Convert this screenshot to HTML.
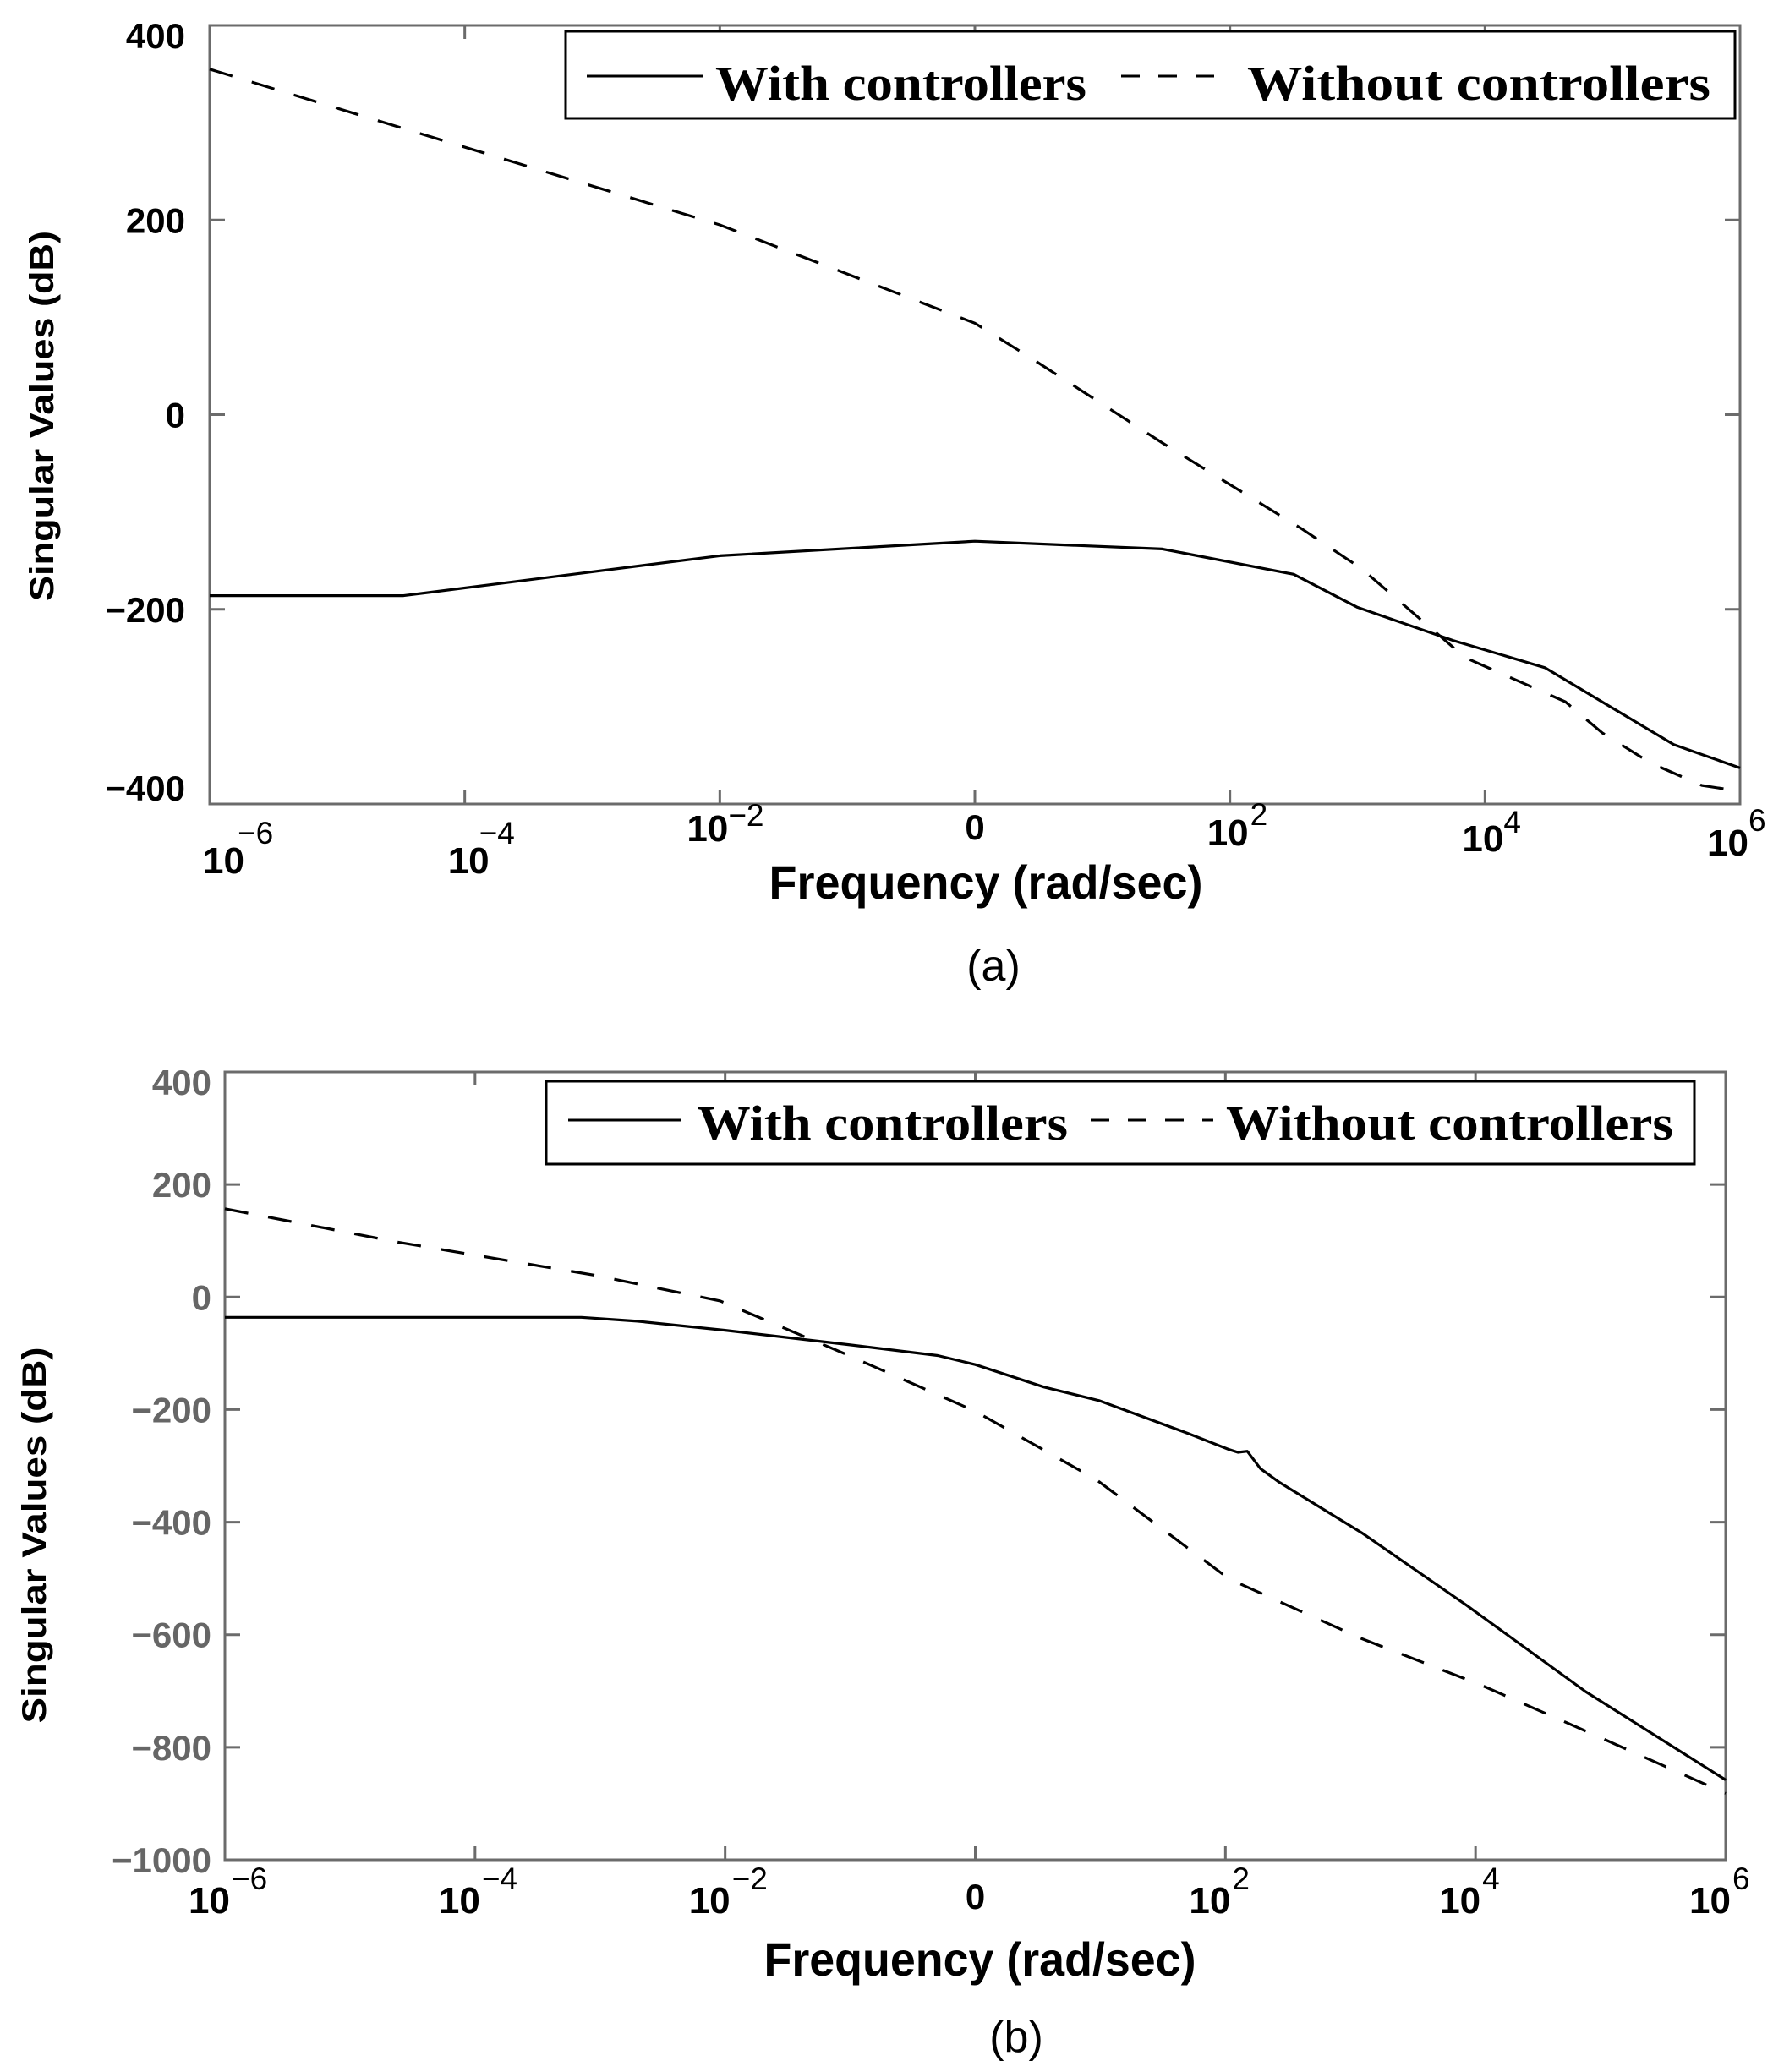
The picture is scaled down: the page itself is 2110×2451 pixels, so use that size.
<!DOCTYPE html>
<html><head><meta charset="utf-8"><style>
html,body{margin:0;padding:0;background:#fff;}
svg{display:block;}
</style></head>
<body>
<svg id="fig" width="2110" height="2451" viewBox="0 0 2110 2451" xmlns="http://www.w3.org/2000/svg">
<rect width="2110" height="2451" fill="#fff"/>
<g id="pa"></g>
<g id="pb"></g>
</svg>
<script>
// ---- data: plot (a) ----
const aWithLogW = [-6, -4.48, -2, 0, 1.47, 2.5, 3.0, 3.75, 4.47, 5.48, 6];
const aWithDb   = [-186, -186, -145, -130, -138, -164, -198, -232, -260, -339, -363];
const aWithoutLogW = [-6, -4.48, -2, 0, 0.43, 1.47, 2.56, 3.03, 3.75, 3.8, 4.63, 4.92, 5.3, 5.7, 6];
const aWithoutDb   = [355, 294, 195, 94, 59, -29, -117, -158, -239, -247, -295, -327, -358, -381, -387];
// ---- data: plot (b) ----
const bWithLogW = [-6, -3.15, -2.7, -2, -1, -0.3, 0, 0.55, 0.99, 1.71, 2.03, 2.1, 2.175, 2.28, 2.43, 3.09, 3.93, 4.88, 6];
const bWithDb   = [-36, -36, -43, -59, -85, -104, -120, -160, -184, -243, -271, -276, -274, -305, -329, -419, -548, -701, -858];
const bWithoutLogW = [-6, -4.63, -3.05, -2.04, -1.03, 0, 0.97, 2.03, 3.09, 4.04, 4.88, 6];
const bWithoutDb   = [157, 98, 39, -7, -102, -203, -325, -501, -607, -689, -771, -882];
// ---- ticks ----
const xTickExp = [-6, -4, -2, 0, 2, 4, 6];
const aYTicks = [400, 200, 0, -200, -400];
const bYTicks = [400, 200, 0, -200, -400, -600, -800, -1000];

const NS = "http://www.w3.org/2000/svg";
function mk(parent, tag, attrs, text){
  const e = document.createElementNS(NS, tag);
  for (const k in attrs) e.setAttribute(k, attrs[k]);
  if (text !== undefined) e.textContent = text;
  parent.appendChild(e);
  return e;
}
function fmt(v){ return v < 0 ? "\u2212" + Math.abs(v) : String(v); }

function drawPlot(g, cfg){
  const {L,R,T,B,ymin,ymax} = cfg;
  const xs = lw => L + (lw + 6) / 12 * (R - L);
  const ys = v => T + (ymax - v) / (ymax - ymin) * (B - T);
  const box = mk(g, "rect", {x:L, y:T, width:R-L, height:B-T, fill:"none", stroke:"#6b6b6b", "stroke-width":3});
  
  
  xTickExp.forEach(e => {
    const x = xs(e);
    const t1 = mk(g, "line", {x1:x, y1:B, x2:x, y2:B-16, stroke:"#6b6b6b", "stroke-width":3});
    
    
    const t2 = mk(g, "line", {x1:x, y1:T, x2:x, y2:T+16, stroke:"#6b6b6b", "stroke-width":3});
    
    
  });
  cfg.yTicks.forEach(v => {
    const y = ys(v);
    const t1 = mk(g, "line", {x1:L, y1:y, x2:L+18, y2:y, stroke:"#6b6b6b", "stroke-width":3});
    
    
    const t2 = mk(g, "line", {x1:R, y1:y, x2:R-18, y2:y, stroke:"#6b6b6b", "stroke-width":3});
    
    
    let ty = y + 15;
    if (v === ymax) ty = y + 27;
    if (v === ymin && cfg.clampBottom) ty = y - 4;
    const lab = mk(g, "text", {x:cfg.yLabRight, y:ty, "text-anchor":"end", "font-family":"Liberation Sans, sans-serif", "font-weight":"bold", "font-size":42, fill:cfg.yLabColor}, fmt(v));
    
    
  });
  xTickExp.forEach((e, i) => {
    const x = xs(e);
    const lay = cfg.xLab[i];
    if (e === 0) {
      const z = mk(g, "text", {x:x, y:lay[1], "text-anchor":"middle", "font-family":"Liberation Sans, sans-serif", "font-weight":"bold", "font-size":42, fill:"#000"}, "0");
      
      
      return;
    }
    const ten = mk(g, "text", {x:x+lay[0], y:lay[1], "text-anchor":"end", "font-family":"Liberation Sans, sans-serif", "font-weight":"bold", "font-size":44, fill:"#000"}, "10");
    
    
    const ex = mk(g, "text", {x:x+lay[0]+lay[3], y:lay[2], "text-anchor":"start", "font-family":"Liberation Sans, sans-serif", "font-size":37, fill:"#000"}, fmt(e));
    
    
  });
  function path(lw, db){
    return lw.map((w,i) => (i ? "L" : "M") + xs(w).toFixed(1) + "," + ys(db[i]).toFixed(1)).join(" ");
  }
  const pw = mk(g, "path", {d:path(cfg.withX, cfg.withY), fill:"none", stroke:"#000", "stroke-width":3.2, "stroke-linejoin":"round"});
  
  
  const pn = mk(g, "path", {d:path(cfg.woX, cfg.woY), fill:"none", stroke:"#000", "stroke-width":3.2, "stroke-dasharray":"28 24"});
  
  
  const lg = cfg.leg;
  const lgg = mk(g, "g", {});
  
  
  mk(lgg, "rect", {x:lg.x, y:lg.y, width:lg.w, height:lg.h, fill:"#fff", stroke:"#000", "stroke-width":3});
  const ls = mk(lgg, "line", {x1:lg.s1, y1:lg.ly, x2:lg.s2, y2:lg.ly, stroke:"#000", "stroke-width":3});
  
  
  const t1 = mk(lgg, "text", {x:lg.t1, y:lg.by, "font-family":"Liberation Serif, serif", "font-weight":"bold", "font-size":58, textLength:lg.t1w, lengthAdjust:"spacingAndGlyphs"}, "With controllers");
  
  
  const ld = mk(lgg, "line", {x1:lg.d1, y1:lg.ly, x2:lg.d2, y2:lg.ly, stroke:"#000", "stroke-width":3, "stroke-dasharray":"22 22"});
  
  
  const t2 = mk(lgg, "text", {x:lg.t2, y:lg.by, "font-family":"Liberation Serif, serif", "font-weight":"bold", "font-size":58, textLength:lg.t2w, lengthAdjust:"spacingAndGlyphs"}, "Without controllers");
  
  
  const yt = mk(g, "text", {x:0, y:0, transform:"translate("+cfg.yt[0]+","+cfg.yt[1]+") rotate(-90)", "text-anchor":"middle", "dominant-baseline":"central", "font-family":"Liberation Sans, sans-serif", "font-weight":"bold", "font-size":40, textLength:cfg.yt[2], lengthAdjust:"spacingAndGlyphs"}, "Singular Values (dB)");
  
  
  const xt = mk(g, "text", {x:cfg.xt[0], y:cfg.xt[1], "text-anchor":"middle", "font-family":"Liberation Sans, sans-serif", "font-weight":"bold", "font-size":56, textLength:cfg.xt[2], lengthAdjust:"spacingAndGlyphs"}, "Frequency (rad/sec)");
  
  
  const cap = mk(g, "text", {x:cfg.cap[0], y:cfg.cap[1], "text-anchor":"middle", "font-family":"Liberation Sans, sans-serif", "font-size":52}, cfg.cap[2]);
  
  
}

drawPlot(document.getElementById("pa"), {
  L:248, R:2058, T:30, B:951, ymin:-400, ymax:400, yTicks:aYTicks, yLabRight:219, yLabColor:"#000", clampBottom:true,
  withX:aWithLogW, withY:aWithDb, woX:aWithoutLogW, woY:aWithoutDb,
  xLab:[[41,1033,998,-8],[29,1033,998,-12],[10,995,977,0],[0,993,0,0],[22,1000,976,2],[22,1007,985,0],[10,1012,983,0]],
  leg:{x:669,y:37,w:1383,h:103,s1:694,s2:832,ly:90,t1:846,t1w:439,d1:1326,d2:1457,t2:1475,t2w:548,by:118},
  yt:[50,492,438], xt:[1166,1063,513], cap:[1175,1160,"(a)"]
});
drawPlot(document.getElementById("pb"), {
  L:266, R:2041, T:1268, B:2200, ymin:-1000, ymax:400, yTicks:bYTicks, yLabRight:250, yLabColor:"#666", clampBottom:false,
  withX:bWithLogW, withY:bWithDb, woX:bWithoutLogW, woY:bWithoutDb,
  xLab:[[6,2263,2235,2],[6,2263,2235,2],[6,2263,2235,2],[0,2258,0,0],[6,2263,2235,2],[6,2263,2235,2],[6,2263,2235,2]],
  leg:{x:646,y:1279,w:1358,h:98,s1:672,s2:805,ly:1325,t1:825,t1w:438,d1:1290,d2:1435,t2:1450,t2w:529,by:1348},
  yt:[41,1816,445], xt:[1159,2337,511], cap:[1202,2427,"(b)"]
});
</script>
</body></html>
